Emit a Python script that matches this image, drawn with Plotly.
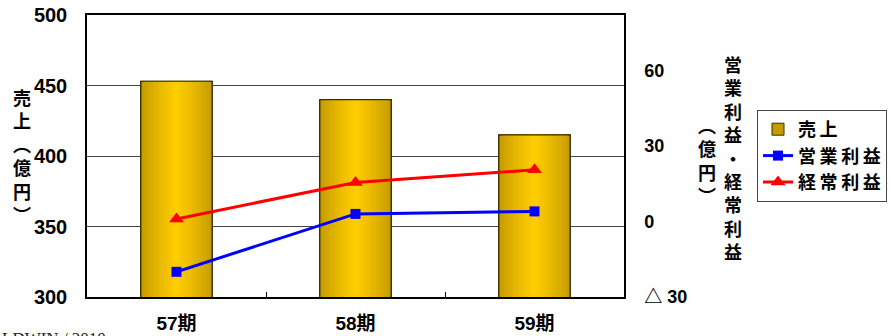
import plotly.graph_objects as go

# ---- data ----
categories = ["57期", "58期", "59期"]
sales = [453, 440, 415]                 # 売上（億円） left axis
operating_profit = [-20, 3, 4]          # 営業利益（億円） right axis
ordinary_profit = [1, 15.5, 20.5]       # 経常利益（億円） right axis
left_ticks = [300, 350, 400, 450, 500]
right_tickvals = [-30, 0, 30, 60]
right_ticktext = ["△ 30", "0", "30", "60"]
series_names = ["売\u2009上", "営\u2009業\u2009利\u2009益", "経\u2009常\u2009利\u2009益"]

FONT = "Liberation Sans, Arial, Noto Sans CJK JP, sans-serif"
CJK = "Noto Sans CJK JP, Liberation Sans, sans-serif"

fig = go.Figure()

# gradient bars built from overlaid bar layers (dark edges -> bright centre)
bar_w = 0.4
n_layers = 14
edge = (196, 156, 0)
mid = (255, 204, 0)
for k in range(n_layers):
    t = k / (n_layers - 1)
    w = bar_w * (1 - t * 0.92)
    c = tuple(int(edge[i] + (mid[i] - edge[i]) * (t ** 0.8)) for i in range(3))
    fig.add_trace(go.Bar(
        x=categories, y=sales, width=[w] * len(categories),
        marker=dict(color="rgb(%d,%d,%d)" % c,
                    line=dict(width=1 if k == 0 else 0, color="#3a3000")),
        name=series_names[0], showlegend=(k == 0), legendrank=1,
        hoverinfo="skip" if k else None, yaxis="y",
    ))
# outline on top
fig.add_trace(go.Bar(
    x=categories, y=sales, width=[bar_w] * len(categories),
    marker=dict(color="rgba(0,0,0,0)", line=dict(width=1.2, color="#3a3000")),
    showlegend=False, hoverinfo="skip", yaxis="y",
))

fig.add_trace(go.Scatter(
    x=categories, y=operating_profit, mode="lines+markers", name=series_names[1],
    line=dict(color="#0000FF", width=3),
    marker=dict(symbol="square", size=10, color="#0000FF"),
    yaxis="y2", legendrank=2,
))
fig.add_trace(go.Scatter(
    x=categories, y=ordinary_profit, mode="lines+markers", name=series_names[2],
    line=dict(color="#FF0000", width=3),
    marker=dict(symbol="triangle-up", size=13, color="#FF0000"),
    yaxis="y2", legendrank=3,
))

L, R, T, B = 87, 624, 15, 297
W, H = 893, 336

def px(x):
    return (x - L) / (R - L)

def py(y):
    return (B - y) / (B - T)

fig.update_layout(
    width=W, height=H,
    margin=dict(l=L, r=W - R, t=T, b=H - B, pad=0, autoexpand=False),
    paper_bgcolor="white", plot_bgcolor="white",
    barmode="overlay",
    font=dict(family=FONT, color="black"),
    xaxis=dict(
        type="category", showline=True, linecolor="black", linewidth=1.5,
        mirror=True, ticks="inside", ticklen=5, tickcolor="black",
        tickson="boundaries", showgrid=False, ticklabelstandoff=8,
        automargin=False,
        tickfont=dict(size=19, family=FONT, weight="bold"),
    ),
    yaxis=dict(
        range=[300, 500], tickvals=left_ticks, showline=True,
        linecolor="black", linewidth=1.5, showgrid=True, gridcolor="#444444",
        gridwidth=1, ticks="", ticklabelstandoff=14, zeroline=False,
        automargin=False,
        tickfont=dict(size=20, family=FONT, weight="bold"),
    ),
    yaxis2=dict(
        range=[-30, 82], tickvals=right_tickvals, ticktext=right_ticktext,
        overlaying="y", side="right", showline=True, linecolor="black",
        linewidth=1.5, showgrid=False, zeroline=False, ticks="",
        ticklabelstandoff=15, automargin=False,
        tickfont=dict(size=18, family=FONT, weight="bold"),
    ),
    legend=dict(
        x=px(757), y=py(110), xanchor="left", yanchor="top",
        bgcolor="white", bordercolor="#444444", borderwidth=1,
        font=dict(size=18, family=CJK, weight="bold"),
        tracegroupgap=0, itemwidth=30,
    ),
    showlegend=True,
)

ann_font = dict(size=18, family=CJK, weight="bold")
annotations = [
    dict(text="売<br>上<br>︵<br>億<br>円<br>︶", x=px(22), y=py(155),
         xanchor="center", yanchor="middle",
         xref="paper", yref="paper", showarrow=False, font=ann_font),
    dict(text="営<br>業<br>利<br>益<br>・<br>経<br>常<br>利<br>益", x=px(733), y=py(157),
         xanchor="center", yanchor="middle",
         xref="paper", yref="paper", showarrow=False, font=ann_font),
    dict(text="︵<br>億<br>円<br>︶", x=px(707), y=py(160),
         xanchor="center", yanchor="middle",
         xref="paper", yref="paper", showarrow=False, font=ann_font),
    dict(text="LDWIN / 2010", x=px(0), y=py(327), xanchor="left", yanchor="top",
         xref="paper", yref="paper", showarrow=False,
         font=dict(size=17, family="Liberation Serif, serif", color="#222222")),
]
fig.update_layout(annotations=annotations)

fig.write_html("out.html")
